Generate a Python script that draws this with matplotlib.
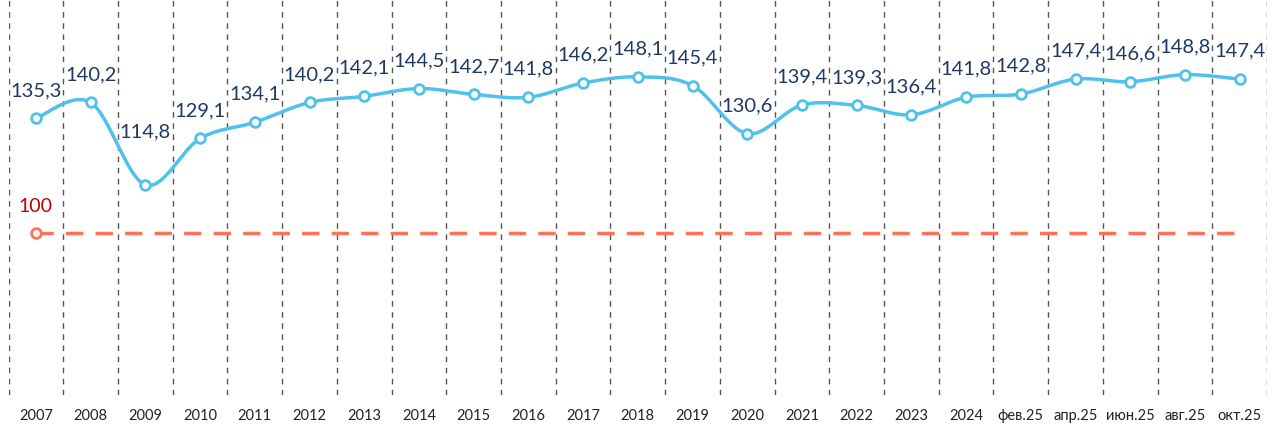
import numpy as np
import matplotlib
matplotlib.use('Agg')
import matplotlib.pyplot as plt

plt.rcParams['font.family'] = ['Lato', 'DejaVu Sans']

labels = ['2007', '2008', '2009', '2010', '2011', '2012', '2013', '2014', '2015',
          '2016', '2017', '2018', '2019', '2020', '2021', '2022', '2023', '2024',
          'фев.25', 'апр.25', 'июн.25', 'авг.25', 'окт.25']
values = [135.3, 140.2, 114.8, 129.1, 134.1, 140.2, 142.1, 144.5, 142.7,
          141.8, 146.2, 148.1, 145.4, 130.6, 139.4, 139.3, 136.4, 141.8,
          142.8, 147.4, 146.6, 148.8, 147.4]
base_value = 100

LINE_C = '#4FC1EA'
BASE_C = '#FF7255'
TEXT_C = '#1F3864'


def smooth(x, y, n=30):
    # Catmull-Rom style smoothing like Excel's smoothed line
    x = np.asarray(x, float)
    y = np.asarray(y, float)
    px = np.concatenate([[x[0]], x, [x[-1]]])
    py = np.concatenate([[y[0]], y, [y[-1]]])
    xs, ys = [], []
    t = np.linspace(0, 1, n)
    for i in range(1, len(px) - 2):
        p0, p1, p2, p3 = py[i - 1], py[i], py[i + 1], py[i + 2]
        q0, q1, q2, q3 = px[i - 1], px[i], px[i + 1], px[i + 2]
        # bezier control points
        c1y = p1 + (p2 - p0) / 6
        c2y = p2 - (p3 - p1) / 6
        c1x = q1 + (q2 - q0) / 6
        c2x = q2 - (q3 - q1) / 6
        bx = (1-t)**3*q1 + 3*(1-t)**2*t*c1x + 3*(1-t)*t**2*c2x + t**3*q2
        by = (1-t)**3*p1 + 3*(1-t)**2*t*c1y + 3*(1-t)*t**2*c2y + t**3*p2
        xs.append(bx)
        ys.append(by)
    return np.concatenate(xs), np.concatenate(ys)


x = np.arange(len(labels))

fig = plt.figure(figsize=(12.73, 4.25), dpi=100)
ax = fig.add_axes([8.6 / 1273, 30 / 425, (1267 - 8.6) / 1273, 395 / 425])
ax.set_xlim(-0.5, len(labels) - 0.5)
ax.set_ylim(50, 171.8)

for b in np.arange(-0.5, len(labels)):
    ax.axvline(b, color='#555555', linestyle=(0, (4, 4)), linewidth=1.0, zorder=1)

# base line at 100
ax.plot([x[0], x[-1]], [base_value, base_value], color=BASE_C, linewidth=2.5,
        linestyle=(0, (5, 3.5)), zorder=2)
ax.plot([x[0]], [base_value], marker='o', markersize=7, markerfacecolor='white',
        markeredgecolor=BASE_C, markeredgewidth=2, zorder=3)
ax.annotate('100', (x[0], base_value), xytext=(0, 13), textcoords='offset points',
            ha='center', va='bottom', color='#C00000', fontsize=14)

sx, sy = smooth(x, values)
ax.plot(sx, sy, color=LINE_C, linewidth=2.5, zorder=4, solid_capstyle='round')
ax.plot(x, values, linestyle='none', marker='o', markersize=7,
        markerfacecolor='white', markeredgecolor=LINE_C, markeredgewidth=2, zorder=5)

for i, v in enumerate(values):
    off = 32 if labels[i] == '2009' else 14
    ax.annotate(f'{v:.1f}'.replace('.', ','), (x[i], v), xytext=(0, off),
                textcoords='offset points', ha='center', va='bottom',
                color=TEXT_C, fontsize=14.5)

ax.set_xticks(x)
ax.set_xticklabels(labels, fontsize=10.5, color='#222222')
ax.tick_params(axis='x', length=0, pad=10)
ax.set_yticks([])
for s in ax.spines.values():
    s.set_visible(False)

fig.savefig('out.png', dpi=100)
